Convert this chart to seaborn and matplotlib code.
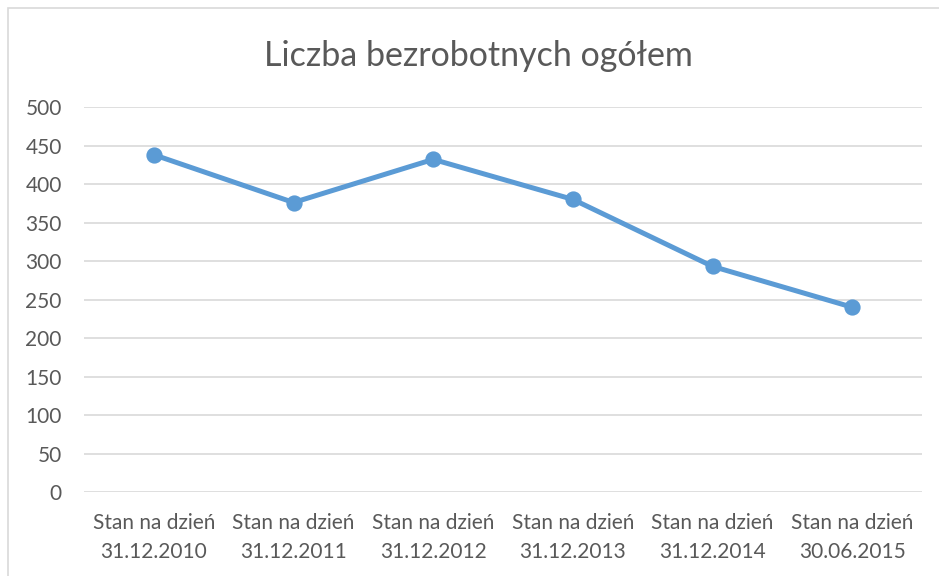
import matplotlib
matplotlib.use("Agg")
import matplotlib.pyplot as plt
import seaborn as sns
import pandas as pd
from matplotlib.patches import Rectangle

# ---------- DATA ----------
dates = ["31.12.2010", "31.12.2011", "31.12.2012", "31.12.2013", "31.12.2014", "30.06.2015"]
labels = [f"Stan na dzień\n{d}" for d in dates]
unemployed = [438, 376, 432, 380, 293, 240]
yticks = [0, 50, 100, 150, 200, 250, 300, 350, 400, 450, 500]

df = pd.DataFrame({"label": labels, "value": unemployed})

# ---------- STYLE ----------
sns.set_style("white")
plt.rcParams["font.family"] = ["Lato", "DejaVu Sans"]
TEXT = "#595959"
BLUE = "#5B9BD5"
GRID = "#D9D9D9"

fig = plt.figure(figsize=(9.39, 5.76), dpi=100)
ax = fig.add_axes([0.0895, 0.1458, 0.8925, 0.6684])

sns.pointplot(data=df, x="label", y="value", color=BLUE, markers="o",
              linewidth=3.6, markersize=9, ax=ax, zorder=3)

ax.set_xlim(-0.5, 5.5)
ax.set_ylim(0, 500)
ax.set_yticks(yticks)
ax.yaxis.grid(True, color=GRID, linewidth=1.2)
ax.set_axisbelow(True)
for s in ax.spines.values():
    s.set_visible(False)
ax.tick_params(axis="both", length=0, labelsize=15, colors=TEXT)
ax.tick_params(axis="x", pad=15)
ax.tick_params(axis="y", pad=16)
for t in ax.get_xticklabels():
    t.set_linespacing(1.55)
ax.set_xlabel("")
ax.set_ylabel("")

fig.text(0.509, 0.903, "Liczba bezrobotnych ogółem", ha="center", va="center",
         fontsize=24.5, color=TEXT)

# chart frame
fig.patches.append(Rectangle((0.0085, -0.01), 1.0, 0.996, transform=fig.transFigure,
                             fill=False, edgecolor=GRID, linewidth=1.2))

plt.savefig("out.png", dpi=100)
